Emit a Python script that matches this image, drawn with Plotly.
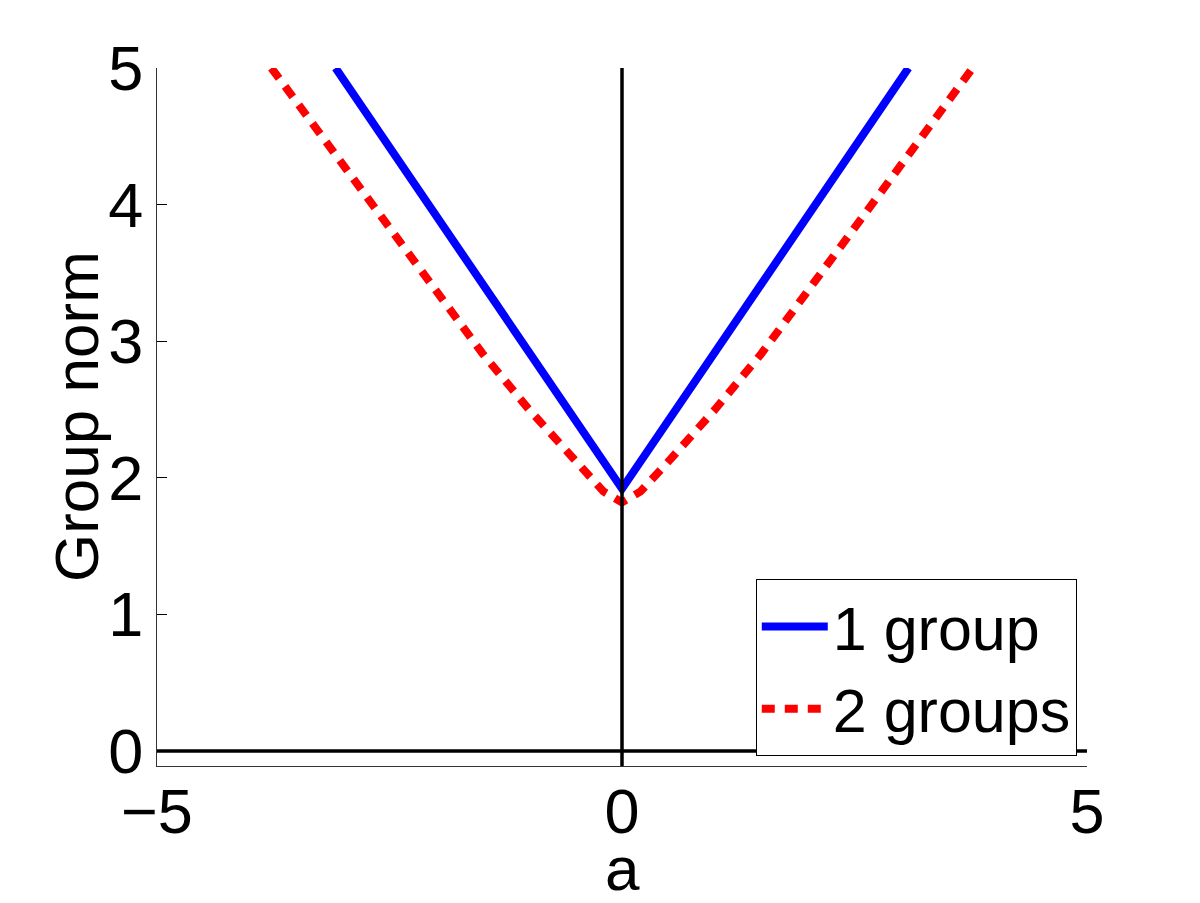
import plotly.graph_objects as go

# Data
a_one = [-3.08, 0.0, 3.08]
norm_one = [5.0, 1.92, 5.0]

a_two = [-3.77, -3.0, -2.5, -2.0, -1.5, -1.0, -0.5, -0.2, 0.0, 0.2, 0.5, 1.0, 1.5, 2.0, 2.5, 3.0, 3.77]
norm_two = [5.0, 4.29, 3.83, 3.36, 2.91, 2.50, 2.12, 1.90, 1.82, 1.90, 2.12, 2.50, 2.91, 3.36, 3.83, 4.29, 5.0]

x_ticks = [-5, 0, 5]
y_ticks = [0, 1, 2, 3, 4, 5]
x_range = [-5, 5]
y_range = [-0.11, 5]

FONT = "Liberation Sans, Arial, Helvetica, sans-serif"

fig = go.Figure()
fig.add_trace(go.Scatter(x=a_one, y=norm_one, mode="lines", name="1 group",
                         line=dict(color="#0000ff", width=8)))
fig.add_trace(go.Scatter(x=a_two, y=norm_two, mode="lines", name="2 groups",
                         line=dict(color="#ff0000", width=8, dash="13px,10px")))
# axis lines at zero
fig.add_trace(go.Scatter(x=x_range, y=[0, 0], mode="lines", showlegend=False,
                         line=dict(color="black", width=3.5), hoverinfo="skip"))
fig.add_trace(go.Scatter(x=[0, 0], y=y_range, mode="lines", showlegend=False,
                         line=dict(color="black", width=3.5), hoverinfo="skip"))

fig.update_layout(
    width=1200, height=903,
    margin=dict(l=157, r=113, t=68, b=137, autoexpand=False),
    paper_bgcolor="white", plot_bgcolor="white",
    font=dict(family=FONT, size=62, color="black"),
    showlegend=True,
    legend=dict(x=0.989, y=0.014, xanchor="right", yanchor="bottom",
                bgcolor="white", bordercolor="black", borderwidth=1,
                font=dict(size=61), tracegroupgap=0, itemwidth=66),
    xaxis=dict(range=x_range, tickvals=x_ticks, ticks="inside", ticklen=10,
               tickcolor="black", showline=True, linecolor="#333", linewidth=1,
               mirror=False, showgrid=False, zeroline=False, automargin=False,
               ticklabelstandoff=-10, tickfont=dict(size=63)),
    yaxis=dict(range=y_range, tickvals=y_ticks, ticks="inside", ticklen=10,
               tickcolor="black", showline=True, linecolor="#333", linewidth=1,
               mirror=False, showgrid=False, zeroline=False, automargin=False,
               tickfont=dict(size=63)),
    annotations=[
        dict(text="a", xref="paper", yref="paper",
             x=0.5, y=(766 - 868) / 698, xanchor="center", yanchor="middle",
             height=56, showarrow=False, font=dict(size=62)),
        dict(text="Group norm", xref="paper", yref="paper",
             x=(76 - 157) / 930, y=0.5, xanchor="center", yanchor="middle",
             textangle=-90, showarrow=False, font=dict(size=62)),
    ],
)

fig.write_html("out.html")
